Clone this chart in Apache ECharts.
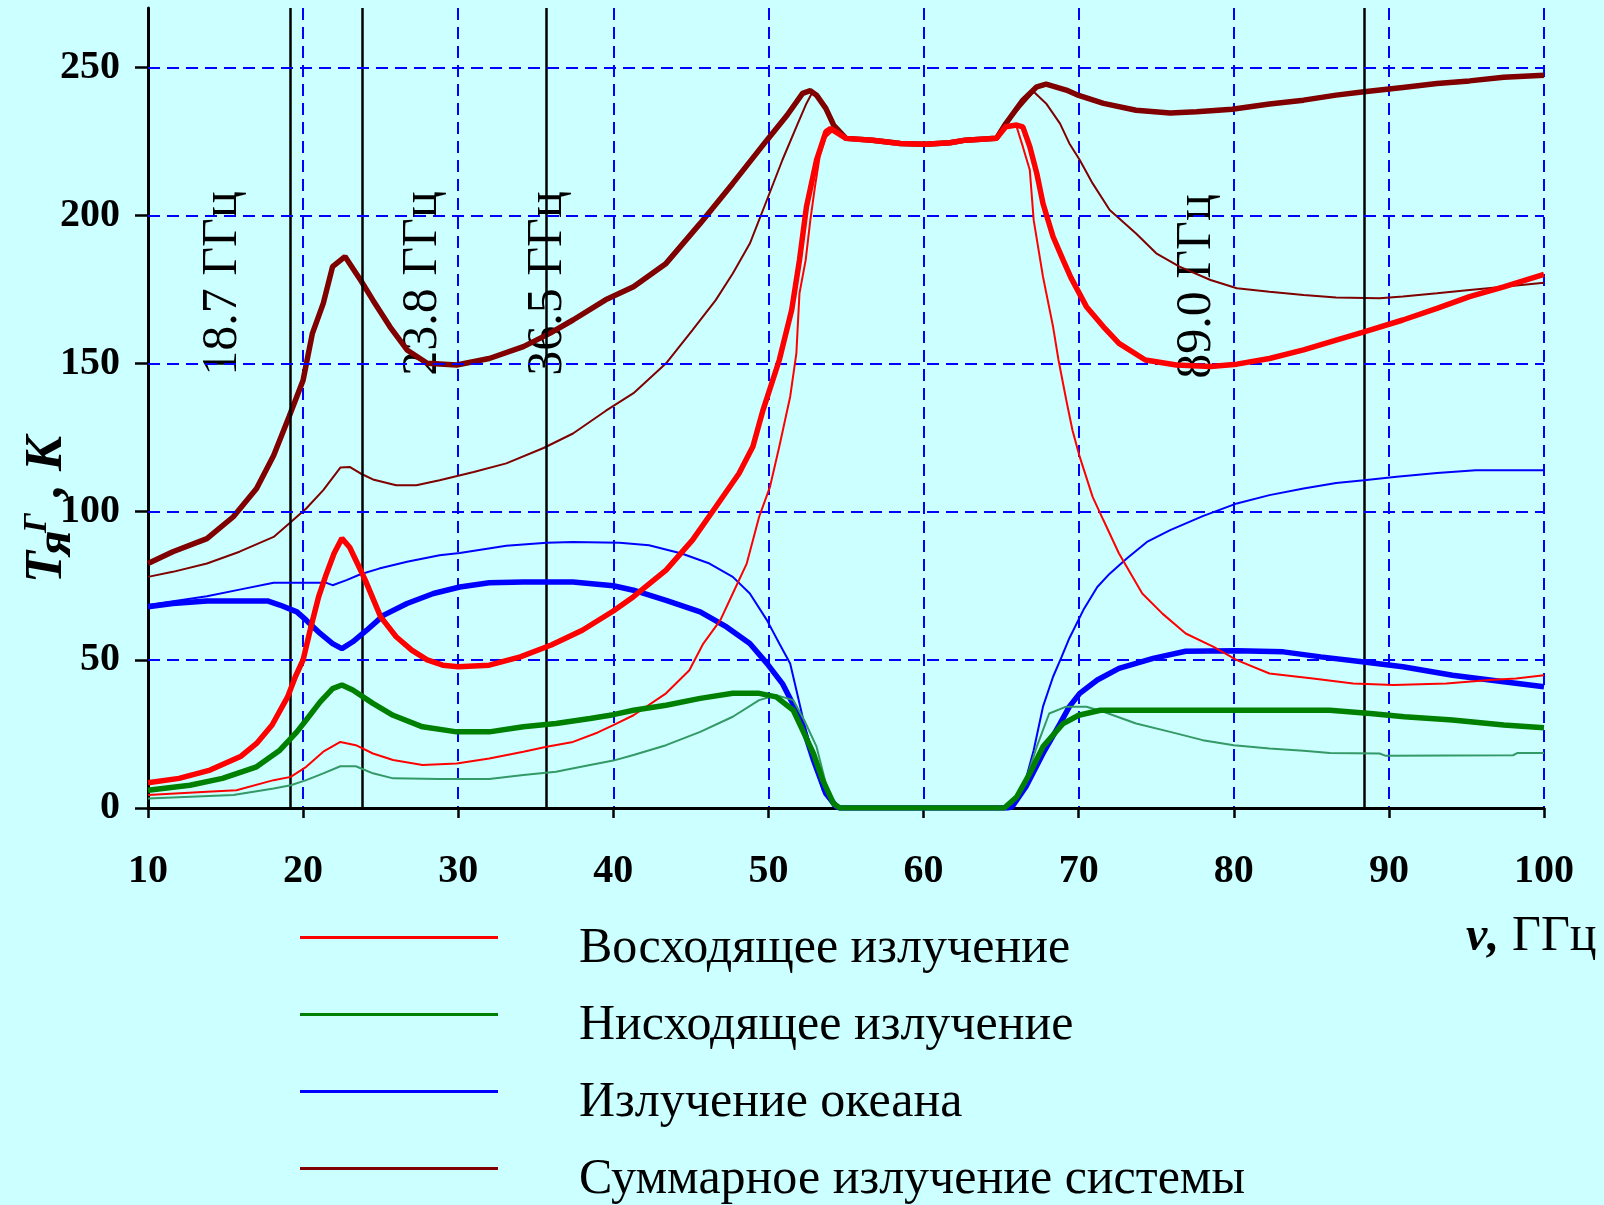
<!DOCTYPE html>
<html>
<head>
<meta charset="utf-8">
<script src="https://cdn.jsdelivr.net/npm/echarts@6/dist/echarts.min.js"></script>
<style>
html,body{margin:0;padding:0;background:#CCFFFF;}
#chart{width:1604px;height:1205px;}
</style>
</head>
<body>
<div id="chart"></div>
<script>
// ---- data (frequency GHz, brightness temperature K) ----
const xTicks = [10, 20, 30, 40, 50, 60, 70, 80, 90, 100];
const yTicks = [0, 50, 100, 150, 200, 250];
const gridY = [50, 100, 150, 200, 250];
const channelLines = [19.2, 23.8, 35.7, 88.4];
const channelLabels = [[14.8, 177, '18.7 ГГц'], [27.7, 177, '23.8 ГГц'], [35.8, 177, '36.5 ГГц'], [77.6, 176, '89.0 ГГц']];
const seriesNames = ['Восходящее излучение', 'Нисходящее излучение', 'Излучение океана', 'Суммарное излучение системы'];

const plateau = [[55,226],[56.7,225.4],[58.5,224.3],[60.1,224],[61.7,224.5],[62.7,225.4],[64.7,226]];

const upThick = [[10,8.5],[12,10],[14,12.8],[16,17.5],[17,21.8],[18,28],[19,37.5],[19.5,44.3],[20,50],[20.5,61],[21,71.3],[21.5,79],[22,86],[22.5,91],[23,88],[23.5,82.5],[24,77],[25,64.5],[26,57.8],[27,53.3],[28,50],[29,48.2],[30,47.7],[32,48.2],[34,51],[36,55],[38,60],[40,66.5],[41.3,71.3],[43.4,80.3],[45.1,90.4],[46.6,101.6],[48.1,112.9],[49,122],[49.65,134.3],[50.7,151.2],[51.5,168.1],[52,184.9],[52.45,202.9],[53.1,218.7],[53.7,228.2],[54,229.3]].concat(plateau, [[65.3,229.9],[66,230.5],[66.4,229.9],[66.85,223.2],[67.3,214.2],[67.7,204],[68.35,192.8],[69,184.9],[69.5,179],[70.5,169.2],[71.6,162.4],[72.6,156.8],[74.3,151.2],[76.3,149.5],[78.5,149],[80.2,149.8],[82.3,151.7],[84.5,154.6],[86.6,157.9],[88.4,160.7],[90.9,164.7],[93.1,168.6],[95.2,172.6],[97.4,175.9],[100,180.1]]);

const upThin = [[10,4.4],[13.8,5.5],[15.7,6],[18.1,9.4],[19.2,10.5],[20.2,13.9],[21.3,19],[22.4,22.3],[23.4,21.2],[24.5,18.4],[25.8,16.2],[27.7,14.5],[29.9,15],[32,16.7],[34.2,19],[35.7,20.7],[37.4,22.3],[39,25.5],[40,28],[41.3,31.3],[43.4,38.7],[44.9,46.5],[45.8,55.5],[46.9,63.4],[47.7,72.4],[48.6,82.5],[49.4,98.3],[50.1,108.4],[50.7,122],[51.4,138.8],[51.8,153.4],[52,173.7],[52.4,184.9],[52.7,198.4],[53,209.7],[53.3,219.8],[53.7,226.5],[54.2,228.8]].concat(plateau, [[65.3,229.9],[66,229.9],[66.4,223.2],[66.85,215.3],[67.1,198.4],[67.7,179.3],[68.35,162.4],[68.7,151.2],[69.2,137.7],[69.6,127.5],[70.07,118.5],[70.9,105],[71.6,97.1],[72.6,85.9],[74.1,72.4],[75.4,65.6],[76.9,58.9],[78.7,54.4],[80.2,49.9],[82.3,45.4],[85.1,43.7],[87.7,42],[90.3,41.5],[93.7,42],[96.5,43.2],[98.2,43.7],[100,44.8]]);

const downThick = [[10,6],[12.7,7.7],[14.8,10],[17,13.9],[18.5,19.5],[19.6,25.7],[20.2,29.7],[21.1,35.8],[21.9,40.3],[22.5,41.5],[23.2,39.8],[24.5,35.3],[25.8,31.3],[27.7,27.4],[29.9,25.7],[32,25.7],[34.2,27.4],[36.3,28.5],[38.5,30.2],[40,31.5],[41.3,33],[43.4,34.7],[45.6,37],[47.7,38.7],[49.4,38.7],[50.5,37.5],[51.6,33],[52.2,26.3],[52.9,18.4],[53.5,9.4],[54.2,1.5],[54.6,0],[65.2,0],[66,3.7],[66.85,11.7],[67.7,20.7],[69,28.5],[70,31.3],[71.4,33],[86.2,33],[88.8,31.9],[91,30.8],[94.1,29.7],[97.4,28],[100,27.1]];

const downThin = [[10,3.2],[15.5,4.4],[18.1,6.6],[19.2,7.7],[20.2,9.4],[21.3,11.7],[22.4,14.1],[23.4,14.1],[24.5,11.7],[25.8,10],[28.8,9.8],[32,9.8],[34.2,11.1],[36.3,12.2],[38.5,14.5],[40,16],[41.3,17.9],[43.4,21.2],[45.6,25.7],[47.7,30.8],[49.4,36.4],[50.5,38.1],[51.6,36.4],[52.3,29.7],[53.1,20.7],[53.7,8.3],[54.3,0.4],[54.6,0],[65.2,0],[65.7,1.5],[66.6,9.4],[67.3,20.7],[68.1,31.9],[69.2,34.2],[70.5,34.2],[71.6,32.5],[73.7,28.5],[75.9,25.7],[78,22.9],[80,21.2],[82.3,20.1],[84.5,19.3],[86.2,18.6],[89.4,18.4],[89.8,17.6],[98,17.8],[98.3,18.6],[100,18.6]];

const oceanThick = [[10,67.9],[11.6,69],[13.8,69.9],[17.7,69.9],[18.5,68.5],[19.6,66.2],[20.2,63.4],[21.1,58.9],[21.9,55.5],[22.5,53.8],[23.2,56.1],[24.1,60],[25.2,65.1],[26.7,69],[28.4,72.4],[30.1,74.6],[32,76],[34.2,76.3],[37.4,76.3],[40,75],[41.3,73.5],[43.4,70.1],[45.6,66.2],[47.3,61.1],[48.8,55.5],[49.9,48.8],[50.9,42],[52,30.8],[52.9,16.2],[53.7,4.9],[54.4,0.4],[54.6,0],[65.4,0],[65.7,0.4],[66.6,7.2],[67.7,18.4],[68.8,28.5],[69.4,34.2],[70.07,38.7],[71.2,43.2],[72.6,47.1],[74.8,50.5],[76.9,52.9],[80.2,53.1],[83.2,52.7],[85.6,51],[88.4,49.3],[90.9,47.7],[94.1,44.8],[97.4,42.6],[100,40.9]];

const oceanThin = [[10,68.5],[13.8,71.5],[15.9,73.7],[18.1,76],[21.5,76],[21.9,75.2],[22.8,76.9],[23.7,78.9],[24.9,80.8],[26.7,83.1],[28.8,85.3],[30.1,86.1],[33.1,88.5],[35.7,89.5],[37.4,89.8],[40.4,89.5],[42.3,88.7],[44.4,85.9],[46.2,82.5],[47.7,78],[48.8,72.4],[49.9,63.4],[50.7,55.5],[51.4,48.8],[51.8,39.8],[52.3,28.5],[52.9,17.3],[53.5,6],[54.2,0.4],[54.5,0],[65.3,0],[65.5,0.4],[66.4,6],[67.1,19.5],[67.7,34.2],[68.35,44.3],[68.9,51],[69.4,57.3],[70.3,66.8],[71.2,74.6],[72,79.1],[73.1,84.2],[74.4,89.8],[75.9,93.8],[78,98.5],[80.2,102.8],[82.3,105.6],[84.5,107.8],[86.6,109.7],[88.4,110.6],[90.5,111.8],[93.1,113.1],[95.6,114],[100,114]];

const totalThick = [[10,82.5],[11.6,86.5],[13.8,90.9],[15.5,98.3],[17,107.8],[18.1,119],[19.1,132.1],[20,144.4],[20.6,160.2],[21.3,170.3],[21.9,182.7],[22.7,186.1],[23.7,178.2],[24.5,171.4],[25.6,162.4],[26.7,154.6],[28,150.1],[29.9,149.5],[32,151.7],[34.2,155.7],[35.9,160.2],[37.4,164.7],[39.5,171.5],[41.3,175.9],[43.4,183.8],[45.6,197.3],[47.7,210.8],[49.9,225.4],[51.2,233.8],[52.2,241.2],[52.7,242.1],[53.1,240.6],[53.7,236.1],[54.2,230.5]].concat(plateau, [[65.3,231],[66.4,238.9],[67.3,243.4],[67.9,244.3],[69.2,242.3],[70,240.5],[71.6,237.8],[73.7,235.5],[75.9,234.6],[77.6,235],[79.9,235.8],[82.3,237.6],[84.5,238.9],[86.6,240.6],[88.4,241.7],[90.9,243.2],[93.1,244.5],[95.2,245.4],[97.4,246.6],[100,247.3]]);

const totalThin = [[10,78],[11.6,79.7],[13.8,82.5],[15.9,86.5],[18.1,91.5],[19.1,96],[20.2,101.1],[21.3,107.3],[22.4,114.9],[23,115.1],[23.7,112.9],[24.5,110.9],[26,108.9],[27.3,108.9],[28.8,110.6],[31,113.4],[33.1,116.3],[35.5,121.5],[37.4,126.4],[39.5,134],[41.3,140],[43.4,150.1],[45.1,161.3],[46.6,171.4],[47.7,180.4],[48.8,190.5],[49.9,205.2],[50.9,218.7],[51.8,229.9],[52.45,237.8],[52.8,241.2],[53.1,240],[53.7,235.5],[54.2,229.9]].concat(plateau, [[65.3,231],[67.1,241.7],[67.9,237.8],[68.8,231],[69.4,224.3],[70.07,218.7],[70.9,210.8],[72,201.8],[73.7,193.9],[75,187.2],[76.5,182.7],[78.5,178.2],[80.2,175.4],[82.3,174.2],[84.5,173.1],[86.6,172.3],[89.4,172],[90.9,172.6],[93.1,173.7],[95.2,174.8],[97.4,175.9],[100,177.3]]);

// ---- chart ----
const SERIF = '"Liberation Serif", "Times New Roman", serif';
const RED = '#FF0000', GREEN = '#008000', SEAGREEN = '#339966', BLUE = '#0000FF', MAROON = '#800000';
// legend icon: 3px line near the top of a taller (invisible) box, so it sits above the text centre
const LEGEND_ICON = 'path://M0,0 L198,0 L198,3 L0,3 Z M0,26 L0.01,26 L0,26 Z';
const chart = echarts.init(document.getElementById('chart'), null, {renderer: 'canvas'});

function lineSeries(name, data, color, width, z) {
  return {
    name: name, type: 'line', data: data, showSymbol: false, symbol: 'none',
    lineStyle: {color: color, width: width}, itemStyle: {color: color},
    z: z, animation: false, silent: true
  };
}

const markLines = [];
channelLines.forEach(function (x) {
  markLines.push({xAxis: x, lineStyle: {color: '#000', width: 2.5, type: 'solid'}});
});
gridY.forEach(function (y) {
  markLines.push({yAxis: y, lineStyle: {color: BLUE, width: 2, type: [12, 7]}});
});

const option = {
  backgroundColor: '#CCFFFF',
  animation: false,
  grid: {left: 148, right: 60, top: 8, bottom: 397, containLabel: false},
  xAxis: {
    type: 'value', min: 10, max: 100, interval: 10,
    axisLine: {show: true, onZero: false, lineStyle: {color: '#000', width: 3}},
    axisTick: {show: true, length: 10, lineStyle: {color: '#000', width: 2.5}},
    axisLabel: {color: '#000', fontFamily: SERIF, fontWeight: 'bold', fontSize: 40, margin: 44},
    splitLine: {show: true, lineStyle: {color: BLUE, width: 2, type: [12, 7]}}
  },
  yAxis: {
    type: 'value', min: 0, max: 270, interval: 50,
    axisLine: {show: true, lineStyle: {color: '#000', width: 3}},
    axisTick: {show: true, length: 13, customValues: yTicks, lineStyle: {color: '#000', width: 2.5}},
    axisLabel: {color: '#000', fontFamily: SERIF, fontWeight: 'bold', fontSize: 40, margin: 28,
      customValues: yTicks,
      formatter: function (v) { return yTicks.indexOf(v) >= 0 ? String(v) : ''; }},
    splitLine: {show: false}
  },
  legend: {
    orient: 'vertical', left: 300, top: 924, height: 500, padding: 0,
    itemWidth: 198, itemHeight: 26, itemGap: 27,
    icon: LEGEND_ICON, selectedMode: false,
    textStyle: {color: '#000', fontFamily: SERIF, fontSize: 50, lineHeight: 50, padding: [0, 0, 0, 76]},
    data: [
      {name: seriesNames[0], itemStyle: {color: RED}},
      {name: seriesNames[1], itemStyle: {color: GREEN}},
      {name: seriesNames[2], itemStyle: {color: BLUE}},
      {name: seriesNames[3], itemStyle: {color: MAROON}}
    ]
  },
  series: [
    {
      name: 'annotations', type: 'scatter', symbolSize: 0, z: 1, silent: true,
      itemStyle: {color: '#000', opacity: 1},
      data: channelLabels,
      label: {show: true, position: 'inside', rotate: 90, color: '#000', opacity: 1, fontFamily: SERIF, fontSize: 50,
        textBorderWidth: 0, textBorderColor: 'transparent', textShadowBlur: 0,
        formatter: function (p) { return p.value[2]; }},
      markLine: {silent: true, symbol: 'none', label: {show: false}, animation: false, data: markLines}
    },
    lineSeries(seriesNames[3], totalThin, MAROON, 2, 3),
    lineSeries(seriesNames[3], totalThick, MAROON, 5.5, 4),
    lineSeries(seriesNames[2], oceanThin, BLUE, 2, 5),
    lineSeries(seriesNames[2], oceanThick, BLUE, 5.5, 6),
    lineSeries(seriesNames[0], upThin, RED, 2, 7),
    lineSeries(seriesNames[1], downThin, SEAGREEN, 2, 8),
    lineSeries(seriesNames[0], upThick, RED, 5.5, 9),
    lineSeries(seriesNames[1], downThick, GREEN, 5.5, 10)
  ],
  graphic: [
    {
      type: 'group', x: 74, y: 583, rotation: Math.PI / 2, silent: true,
      children: [
        {type: 'text', x: 0, y: 0, style: {text: 'T', font: 'italic bold 52px ' + SERIF, fill: '#000', verticalAlign: 'bottom', align: 'left'}},
        {type: 'text', x: 27, y: 8, style: {text: 'я', font: 'italic bold 50px ' + SERIF, fill: '#000', verticalAlign: 'bottom', align: 'left'}},
        {type: 'text', x: 50, y: -20, style: {text: 'Г', font: 'italic bold 33px ' + SERIF, fill: '#000', verticalAlign: 'bottom', align: 'left'}},
        {type: 'text', x: 86, y: 0, style: {text: ', К', font: 'italic bold 52px ' + SERIF, fill: '#000', verticalAlign: 'bottom', align: 'left'}}
      ]
    },
    {
      type: 'group', x: 1466, y: 962, silent: true,
      children: [
        {type: 'text', x: 0, y: 0, style: {text: 'ν,', font: 'italic bold 48px ' + SERIF, fill: '#000', verticalAlign: 'bottom', align: 'left'}},
        {type: 'text', x: 46, y: 0, style: {text: 'ГГц', font: '50px ' + SERIF, fill: '#000', verticalAlign: 'bottom', align: 'left'}}
      ]
    }
  ]
};
chart.setOption(option);
</script>
</body>
</html>
